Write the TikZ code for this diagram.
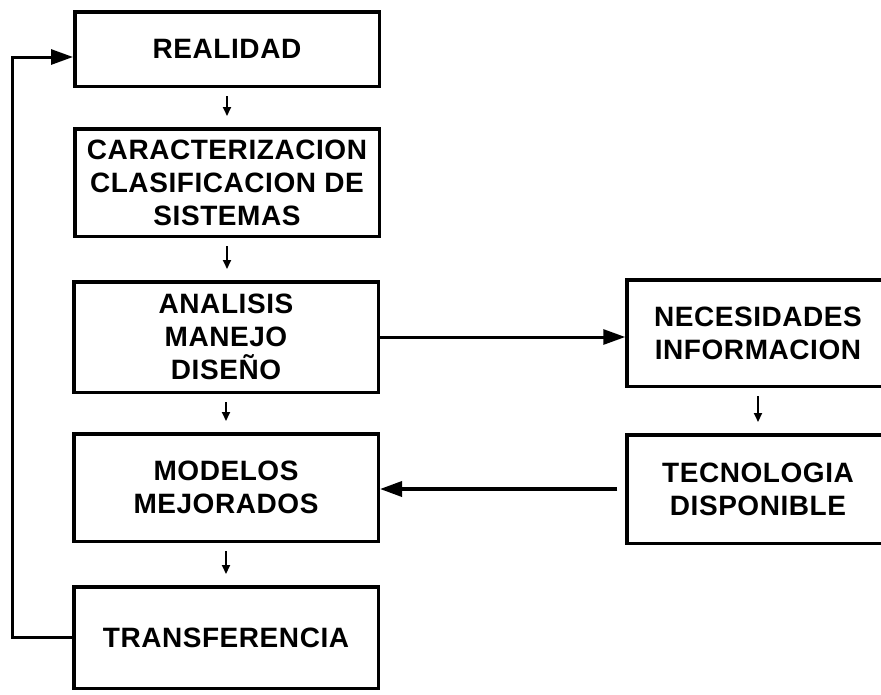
\documentclass[tikz,border=0pt]{standalone}
\usepackage{fontspec}
\newfontfamily\boxfont[LetterSpace=2]{Liberation Sans}
\usetikzlibrary{arrows.meta, positioning, calc}

\tikzset{
  bloque/.style={draw, line width=3.5pt, minimum width=304.5pt, align=center, inner sep=0pt,
    font=\boxfont\bfseries\fontsize{28}{33}\selectfont},
  paso/.style={line width=2pt, -{Triangle[length=9pt,width=8pt]}},
  flecha/.style={line width=3pt, -{Triangle[length=22pt,width=15pt]}}
}

\begin{document}
\begin{tikzpicture}[x=1pt,y=-1pt]
\useasboundingbox (0,0) rectangle (881,694);
% Columna principal
\node[bloque, minimum height=74.5pt] (realidad) at (227,49) {REALIDAD};
\node[bloque, minimum height=107.5pt] (caract) at (227,182.5) {CARACTERIZACION\\CLASIFICACION DE\\SISTEMAS};
\node[bloque, minimum height=110.5pt] (analisis) at (226,337) {ANALISIS\\MANEJO\\DISEÑO};
\node[bloque, minimum height=107.5pt] (modelos) at (226,487.5) {MODELOS\\MEJORADOS};
\node[bloque, minimum height=101.5pt] (transf) at (226,637.5) {TRANSFERENCIA};

% Columna derecha
\node[bloque, minimum width=262pt, minimum height=106.5pt] (necesidades) at (758,333) {NECESIDADES\\INFORMACION};
\node[bloque, minimum width=262pt, minimum height=108.5pt] (tecnologia) at (758,489) {TECNOLOGIA\\DISPONIBLE};

% Flechas cortas
\foreach \a/\b in {realidad/caract, caract/analisis, analisis/modelos, modelos/transf, necesidades/tecnologia}
  \draw[paso, shorten <=8pt, shorten >=11pt] (\a.south) -- (\a.south |- \b.north);

% Retorno
\coordinate (retorno) at (12,57);
\draw[flecha] (transf.west) -| (retorno) -- (retorno -| realidad.west);

% Flechas horizontales
\draw[flecha] (analisis.east) -- (analisis.east -| necesidades.west);
\draw[flecha, line width=3.5pt, shorten <=8pt] (tecnologia.west) -- (tecnologia.west -| modelos.east);
\end{tikzpicture}
\end{document}
